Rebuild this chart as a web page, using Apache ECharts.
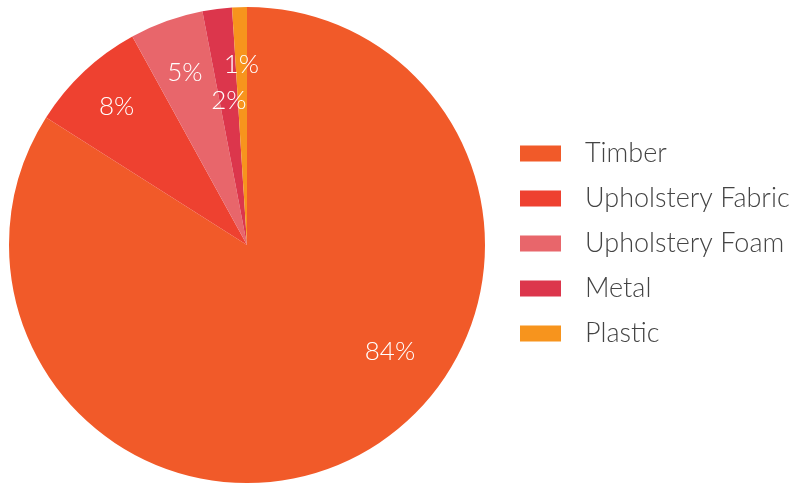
<!DOCTYPE html>
<html>
<head>
<meta charset="utf-8">
<script src="https://cdn.jsdelivr.net/npm/echarts@6/dist/echarts.min.js"></script>
<style>html,body{margin:0;padding:0;background:#fff;}#c{width:796px;height:485px;}</style>
</head>
<body>
<div id="c"></div>
<script>
const categories = ['Timber', 'Upholstery Fabric', 'Upholstery Foam', 'Metal', 'Plastic'];
const values = [84, 8, 5, 2, 1];
const colors = ['#F15A29', '#EE4130', '#E8666B', '#DC364C', '#F7941D'];
// label placement: fraction of radius, and angle override (deg clockwise from top) where needed
const labelDist = [0.75, 0.80, 0.77, 0.61, 0.76];
const labelAngleOverride = [126.8, null, null, null, null];

const CX = 247, CY = 245, R = 238;
const total = values.reduce((a, b) => a + b, 0);

const chart = echarts.init(document.getElementById('c'), null, {renderer: 'canvas'});
chart.setOption({
  animation: false,
  color: colors,
  legend: {
    orient: 'vertical',
    left: 520,
    top: 140,
    padding: 0,
    itemWidth: 41,
    itemHeight: 16,
    itemGap: 18,
    icon: 'rect',
    data: categories,
    textStyle: {
      fontFamily: 'Lato',
      fontWeight: 300,
      fontSize: 27,
      lineHeight: 27,
      color: '#444',
      padding: [0, 0, 0, 19]
    }
  },
  series: [{
    type: 'pie',
    center: [CX, CY],
    radius: R,
    startAngle: 90,
    clockwise: true,
    data: categories.map((c, i) => ({name: c, value: values[i]})),
    label: {
      show: true,
      position: 'inside',
      formatter: p => Math.round(p.value / total * 100) + '%',
      color: '#fff',
      fontFamily: 'Lato',
      fontWeight: 300,
      fontSize: 26
    },
    labelLine: {show: false},
    labelLayout: function (p) {
      const i = p.dataIndex;
      let cum = 0;
      for (let k = 0; k < i; k++) cum += values[k];
      let a = (cum + values[i] / 2) / total * 360;
      if (labelAngleOverride[i] != null) a = labelAngleOverride[i];
      const rad = a * Math.PI / 180;
      return {
        x: CX + labelDist[i] * R * Math.sin(rad),
        y: CY - labelDist[i] * R * Math.cos(rad),
        align: 'center',
        verticalAlign: 'middle'
      };
    },
    itemStyle: {borderWidth: 0},
    emphasis: {disabled: true}
  }]
});
</script>
</body>
</html>
